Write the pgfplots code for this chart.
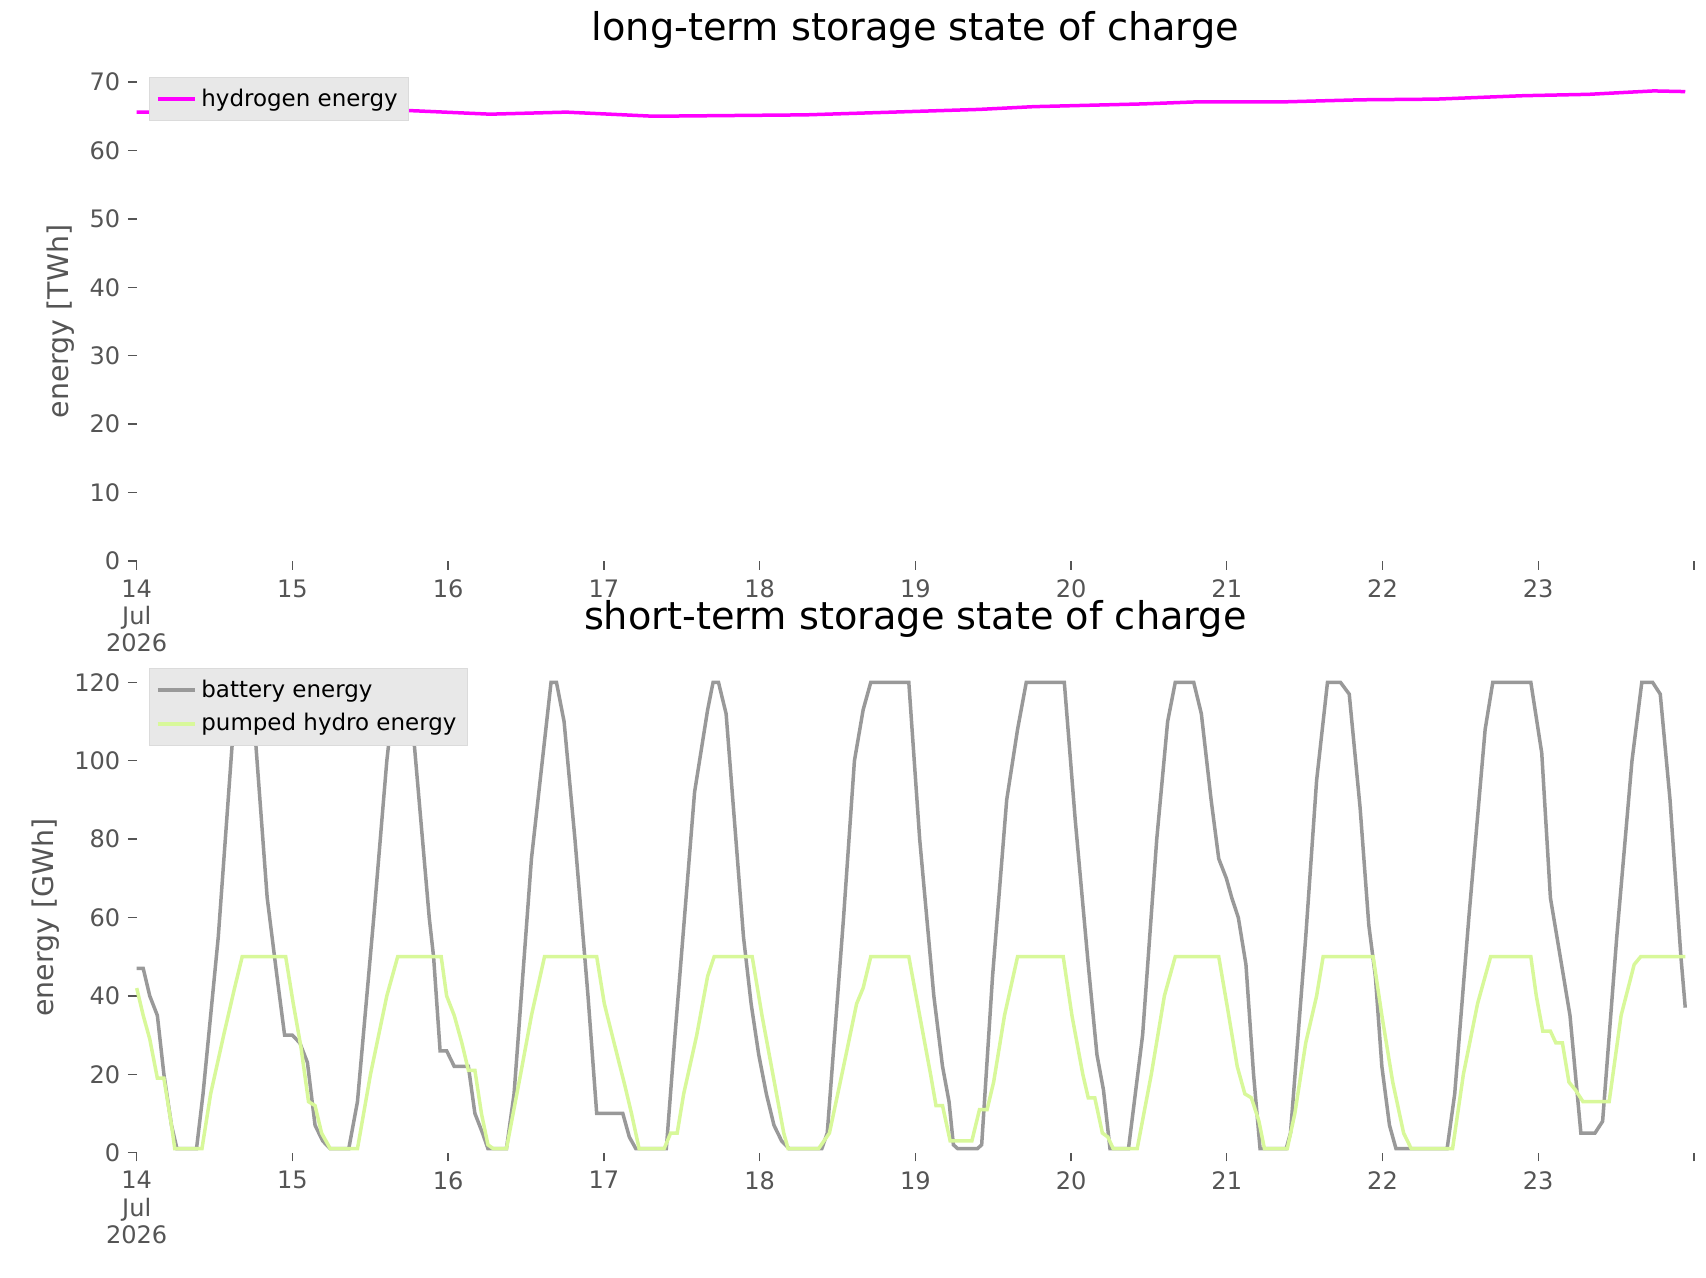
\documentclass[border=0pt]{standalone}
\usepackage{pgfplots}
\pgfplotsset{compat=1.18}
\usepackage{fontspec}
\setmainfont{DejaVu Sans}
\definecolor{tk}{HTML}{555555}
\definecolor{bat}{HTML}{999999}
\definecolor{phs}{HTML}{D8F89A}
\definecolor{mag}{HTML}{FF00FF}
\pgfplotsset{
 common/.style={scale only axis, width=712pt, axis line style={draw=none}, xmin=14, xmax=24,
  clip=false, /pgf/number format/assume math mode=true,
  xtick={14,...,24}, xticklabels={{14\\Jul\\2026},15,16,17,18,19,20,21,22,23,{}},
  xticklabel style={align=center, font=\fontsize{11}{12.5}\selectfont, text=tk, anchor=north, yshift=-1pt},
  yticklabel style={font=\fontsize{11}{12}\selectfont, text=tk},
  ylabel style={font=\fontsize{13}{14}\selectfont, text=tk},
  xtick pos=bottom, ytick pos=left,
  tick style={draw=tk, line width=0.6pt},
  major tick length=4pt, tick align=outside,
  title style={font=\fontsize{17.5}{19}\selectfont},
  legend cell align=left,
  legend image post style={line width=1.6pt},
  legend style={fill=black!9, draw=black!14, font=\fontsize{10.5}{12}\selectfont, anchor=north west, row sep=2pt, inner sep=3pt},
  every axis plot/.append style={line width=1.6pt, mark=none},
 }}
\begin{document}
\begin{tikzpicture}[x=0.5pt,y=0.5pt]
\path (0,0) rectangle (1560,1168);
\begin{axis}[common, at={(62.5pt,327.5pt)}, anchor=south west, height=219pt,
  ymin=0, ymax=70, ytick={0,10,...,70}, ylabel={energy [TWh]},
  title={long-term storage state of charge},
  title style={at={(0.5,1.0)}, anchor=south, yshift=6pt},
  legend style={at={(0.008,1.01)}}]
\addplot[color=mag] table[x expr=14+(\thisrowno{0}-125)/143.2, y index=1] {
125 65.6
200 65.6
290 66.0
380 65.8
450 65.3
520 65.6
600 65.0
740 65.2
900 66.0
950 66.4
1050 66.8
1100 67.1
1180 67.1
1250 67.4
1320 67.5
1400 68.0
1460 68.2
1520 68.7
1549 68.6
};
\addlegendentry{hydrogen energy}
\end{axis}
\begin{axis}[common, at={(62.5pt,57pt)}, anchor=south west, height=215pt,
  ymin=0, ymax=120, ytick={0,20,...,120}, ylabel={energy [GWh]},
  title={short-term storage state of charge},
  title style={at={(0.5,1.0)}, anchor=south, yshift=11pt},
  legend style={at={(0.008,1.03)}}]
\addplot[color=bat] table[x expr=14+(\thisrowno{0}-125)/143.2, y index=1] {
125 47
131 47
137 40
144 35
150 20
157 7
162 1
180 1
186 15
200 55
213 105
218 120
226 120
233 110
245 65
254 45
261 30
268 30
275 28
282 23
289 7
296 3
303 1
320 1
328 13
343 60
355 100
363 120
373 120
380 105
394 60
398 50
404 26
410 26
417 22
430 22
436 10
443 5
448 1
465 1
472 15
488 75
500 105
506 120
511 120
518 110
528 80
540 40
548 10
572 10
578 4
584 1
612 1
620 30
638 92
650 113
655 120
660 120
667 112
683 55
690 38
697 25
704 15
711 7
718 3
725 1
755 1
760 5
775 60
785 100
793 113
800 120
835 120
845 80
858 40
866 22
872 13
876 2
880 1
898 1
902 2
912 45
925 90
935 108
943 120
978 120
988 85
1000 48
1008 25
1014 16
1020 1
1037 1
1050 30
1063 80
1073 110
1080 120
1097 120
1104 112
1113 90
1120 75
1127 70
1132 65
1138 60
1145 48
1152 20
1158 1
1182 1
1186 5
1200 55
1210 95
1220 120
1232 120
1240 117
1250 88
1258 58
1264 45
1270 22
1277 7
1283 1
1330 1
1337 15
1350 60
1365 108
1372 120
1407 120
1417 102
1425 65
1437 45
1443 35
1453 5
1466 5
1473 8
1486 55
1500 100
1509 120
1519 120
1526 117
1535 90
1545 50
1549 37
};
\addlegendentry{battery energy}
\addplot[color=phs] table[x expr=14+(\thisrowno{0}-125)/143.2, y index=1] {
125 42
131 35
137 29
144 19
150 19
157 7
160 1
185 1
193 15
205 30
215 42
222 50
262 50
269 38
276 27
283 13
289 12
295 5
303 1
328 1
340 20
355 40
365 50
405 50
410 40
417 35
424 28
430 21
436 21
442 10
448 2
453 1
465 1
478 20
488 35
500 50
548 50
555 38
564 28
574 17
580 10
587 1
610 1
616 5
622 5
628 15
640 30
650 45
656 50
691 50
700 35
710 20
720 5
724 1
752 1
762 5
775 22
787 38
793 42
800 50
835 50
845 35
855 20
860 12
866 12
873 3
893 3
900 11
907 11
913 18
923 35
935 50
977 50
985 35
995 20
1000 14
1006 14
1013 5
1018 4
1023 1
1045 1
1058 20
1070 40
1080 50
1120 50
1128 37
1137 22
1144 15
1150 14
1157 8
1162 1
1183 1
1190 10
1200 28
1210 40
1216 50
1262 50
1270 35
1280 18
1290 5
1297 1
1335 1
1345 20
1358 38
1370 50
1407 50
1412 40
1418 31
1425 31
1430 28
1436 28
1442 18
1448 16
1455 13
1479 13
1490 35
1502 48
1508 50
1549 50
};
\addlegendentry{pumped hydro energy}
\end{axis}
\end{tikzpicture}
\end{document}
